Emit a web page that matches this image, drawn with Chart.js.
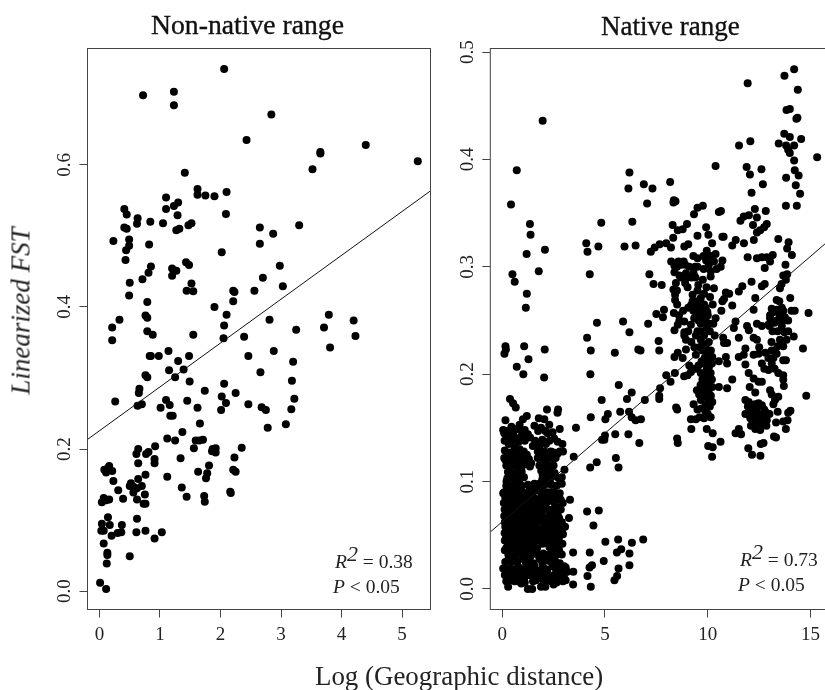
<!DOCTYPE html>
<html>
<head>
<meta charset="utf-8">
<title>Linearized FST vs geographic distance</title>
<script src="https://cdn.jsdelivr.net/npm/chart.js@4"></script>
<style>
  html, body { margin: 0; padding: 0; background: #fff; }
  body { position: relative; width: 825px; height: 690px; overflow: hidden; font-family: "Liberation Serif", serif; color: #222; }
  canvas { position: absolute; top: 0; }
  #chartLeft { left: 0; }
  #chartRight { left: 440px; }
  .txt { position: absolute; white-space: nowrap; line-height: 1; }
  .panelTitle { font-size: 27.7px; color: #111; -webkit-text-stroke: 0.35px #111; }
  .stat { font-size: 19.5px; }
  .stat i { font-style: italic; }
  .stat sup { font-size: 22px; font-style: italic; line-height: 0; position: relative; top: -1px; vertical-align: 6px; }
  #yTitle { font-size: 27px; font-style: italic; left: 21px; top: 311px; transform: translate(-50%, -50%) rotate(-90deg); }
</style>
</head>
<body>
<canvas id="chartLeft" width="440" height="690"></canvas>
<canvas id="chartRight" width="390" height="690"></canvas>
<div class="txt panelTitle" style="left:151px;top:11px">Non-native range</div>
<div class="txt panelTitle" style="left:601px;top:13px;font-size:27px">Native range</div>
<div class="txt" id="yTitle">Linearized FST</div>
<div class="txt" style="left:315px;top:663px;font-size:26.9px">Log (Geographic distance)</div>
<div class="txt stat" style="left:335px;top:552px"><i>R</i><sup>2</sup> = 0.38</div>
<div class="txt stat" style="left:333px;top:577px"><i>P</i> &lt; 0.05</div>
<div class="txt stat" style="left:740px;top:550px"><i>R</i><sup>2</sup> = 0.73</div>
<div class="txt stat" style="left:738px;top:575px"><i>P</i> &lt; 0.05</div>
<script>
// Values: [log distance, linearized FST]
const nonNativePoints = [
  [2.06,.735],[.72,.698],[1.23,.703],[1.23,.684],[2.84,.671],[2.43,.635],[4.40,.628],[3.65,.618],[3.65,.616],[5.26,.605],
  [3.52,.594],[1.41,.589],[1.62,.566],[1.62,.558],[1.75,.557],[1.90,.556],[2.10,.562],[1.10,.554],[1.30,.547],[1.23,.542],
  [1.10,.538],[.41,.538],[.45,.530],[1.29,.529],[2.09,.531],[.63,.525],[.62,.517],[.84,.520],[1.05,.518],[1.52,.518],
  [1.47,.515],[.41,.512],[.45,.510],[1.32,.510],[1.27,.508],[2.65,.512],[2.87,.503],[3.30,.515],[.23,.493],[.49,.495],
  [.49,.486],[.44,.480],[.82,.488],[2.65,.489],[2.02,.477],[.43,.466],[1.43,.463],[1.48,.459],[.85,.457],[1.20,.454],
  [1.27,.451],[.81,.448],[1.20,.444],[2.98,.458],[.71,.439],[2.70,.441],[.50,.434],[1.52,.433],[3.03,.429],[1.44,.423],
  [1.55,.422],[2.56,.423],[2.21,.423],[2.23,.421],[.49,.416],[.79,.407],[2.21,.408],[1.90,.400],[.76,.388],[.79,.385],
  [2.10,.389],[3.79,.389],[.33,.382],[2.81,.382],[4.20,.381],[.21,.371],[2.06,.374],[3.71,.371],[3.25,.368],[.79,.366],
  [.88,.361],[1.55,.361],[2.39,.358],[2.05,.356],[4.23,.359],[.21,.353],[3.81,.343],[.83,.331],[.85,.331],[.98,.331],
  [1.14,.338],[1.30,.324],[1.48,.331],[2.46,.331],[2.88,.338],[3.20,.323],[1.15,.311],[1.39,.312],[2.66,.308],[.76,.304],
  [.79,.301],[1.25,.301],[1.49,.295],[3.18,.296],[2.06,.292],[.66,.285],[.65,.279],[1.74,.282],[2.25,.279],[2.02,.274],
  [3.22,.271],[.26,.267],[1.10,.269],[1.45,.268],[2.09,.265],[2.46,.263],[1.16,.262],[.70,.263],[.63,.261],[1.01,.258],
  [1.62,.258],[2.68,.259],[2.75,.255],[3.17,.256],[2.01,.255],[1.17,.247],[1.21,.247],[1.66,.236],[3.08,.235],[2.78,.230],
  [1.37,.224],[1.12,.215],[1.25,.212],[1.59,.212],[1.65,.212],[1.71,.213],[.92,.204],[1.56,.201],[2.35,.202],[.64,.200],
  [.61,.193],[.81,.196],[.77,.193],[1.87,.200],[1.92,.201],[1.86,.197],[1.92,.195],[.91,.186],[.91,.180],[1.34,.187],
  [2.23,.188],[.64,.180],[1.81,.177],[2.21,.171],[2.25,.168],[.16,.176],[.21,.169],[.08,.171],[.11,.167],[.14,.173],
  [1.63,.168],[1.78,.166],[1.76,.159],[.76,.164],[1.12,.161],[.64,.158],[.23,.155],[.52,.152],[.50,.148],[.70,.148],
  [.56,.147],[.62,.145],[1.36,.146],[.31,.142],[.56,.139],[2.16,.140],[2.17,.138],[.75,.136],[1.44,.133],[1.73,.134],
  [1.74,.126],[.39,.130],[.62,.129],[.07,.131],[.16,.129],[.11,.128],[.04,.125],[.73,.123],[.76,.123],[.14,.104],
  [.62,.102],[.04,.095],[.17,.093],[.37,.093],[.03,.085],[.07,.085],[.76,.085],[.61,.083],[1.03,.083],[.36,.083],
  [.30,.082],[.20,.078],[.91,.074],[.07,.067],[.13,.054],[.13,.051],[.50,.049],[.12,.039],[.01,.012],[.11,.003]
];

const nativePoints = [
  [14.20,.484],[13.73,.478],[11.94,.471],[14.38,.465],[13.83,.446],[13.99,.447],[14.36,.439],[14.31,.438],[1.97,.436],[13.72,.424],
  [13.99,.421],[14.54,.419],[12.07,.417],[11.52,.413],[13.45,.415],[13.81,.413],[14.20,.413],[13.91,.409],[13.99,.406],[15.32,.402],
  [14.20,.399],[10.38,.394],[11.89,.393],[12.61,.391],[14.23,.390],[.71,.390],[14.42,.385],[12.05,.386],[13.81,.383],[6.19,.388],
  [6.14,.373],[6.89,.377],[7.31,.373],[8.17,.379],[12.68,.377],[14.28,.376],[12.13,.369],[14.49,.368],[8.35,.362],[8.43,.361],
  [8.33,.360],[7.05,.359],[.43,.358],[13.80,.357],[14.33,.357],[9.76,.357],[9.50,.355],[12.29,.354],[9.33,.349],[10.54,.351],
  [10.64,.352],[12.82,.352],[11.75,.347],[12.0,.348],[12.39,.346],[11.59,.343],[6.33,.342],[4.82,.341],[1.35,.340],[8.99,.340],
  [8.29,.339],[12.2,.339],[12.87,.340],[12.74,.337],[12.55,.334],[12.39,.332],[9.92,.337],[8.78,.335],[8.54,.334],[1.38,.330],
  [9.50,.329],[10.03,.330],[8.32,.327],[10.71,.328],[10.77,.328],[13.43,.326],[12.24,.325],[11.36,.325],[13.93,.323],[10.21,.322],
  [11.76,.322],[11.19,.320],[4.09,.322],[7.66,.321],[7.98,.322],[6.49,.320],[9.05,.321],[8.86,.319],[4.15,.314],[4.68,.319],
  [5.95,.319],[7.42,.318],[7.23,.314],[8.21,.318],[2.08,.316],[13.86,.317],[1.19,.312],[9.95,.315],[10.38,.312],[13.16,.311],
  [14.09,.311],[9.5,.308],[9.79,.310],[10.14,.310],[11.94,.309],[12.39,.308],[12.63,.309],[12.87,.309],[13.03,.305],[8.22,.305],
  [8.57,.305],[8.83,.305],[9.92,.306],[10.71,.306],[8.38,.301],[8.70,.302],[9.39,.300],[10.63,.300],[10.43,.298],[13.78,.302],
  [12.77,.299],[1.78,.296],[.50,.293],[4.26,.293],[7.16,.293],[8.38,.295],[8.94,.294],[8.62,.292],[9.31,.294],[9.21,.290],
  [10.14,.291],[13.67,.292],[13.86,.293],[13.80,.288],[.61,.286],[12.13,.286],[7.36,.284],[7.76,.283],[8.90,.285],[9.76,.288],
  [12.77,.284],[12.63,.282],[13.59,.284],[13.51,.280],[9.02,.281],[9.54,.283],[9.94,.281],[10.3,.280],[8.33,.279],[11.68,.282],
  [11.51,.277],[1.2,.275],[8.41,.274],[10.88,.276],[11.04,.275],[9.26,.274],[9.82,.275],[9.66,.271],[10.11,.272],[12.31,.271],
  [14.01,.271],[8.41,.269],[9.26,.268],[9.50,.268],[10.71,.268],[10.79,.270],[13.35,.269],[13.48,.268],[8.51,.265],[9.18,.264],
  [9.82,.265],[10.24,.265],[11.19,.264],[1.15,.262],[8.80,.259],[7.87,.260],[10.66,.259],[12.23,.260],[13.11,.261],[13.35,.260],
  [13.67,.259],[14.07,.259],[14.23,.259],[7.5,.256],[8.35,.257],[14.9,.257],[9.42,.258],[9.66,.257],[9.98,.258],[7.82,.253],
  [13.03,.255],[13.03,.252],[9.66,.254],[9.34,.252],[9.90,.252],[10.38,.252],[13.35,.250],[13.67,.250],[13.91,.250],[8.62,.250],
  [8.86,.249],[4.61,.248],[5.88,.249],[7.10,.247],[8.54,.246],[9.18,.246],[9.66,.247],[10.06,.247],[10.27,.247],[11.35,.249],
  [12.39,.247],[12.63,.245],[12.95,.246],[11.91,.245],[11.27,.243],[12.0,.241],[8.38,.241],[13.91,.240],[13.73,.239],[6.19,.239],
  [8.86,.239],[9.5,.240],[8.86,.236],[9.42,.236],[9.82,.236],[10.34,.236],[4.13,.234],[7.61,.231],[10.75,.234],[11.51,.234],
  [12.23,.234],[12.39,.232],[14.18,.235],[13.51,.232],[13.83,.232],[8.94,.232],[9.66,.232],
  [.16,.226],[.18,.223],[.11,.219],[1.07,.226],[2.07,.223],[4.31,.222],[5.48,.220],[6.62,.223],[6.73,.222],[7.64,.222],
  [1.28,.214],[.71,.207],[1.03,.200],[2.04,.197],[4.29,.200],[8.38,.216],[8.54,.220],[8.78,.215],[8.94,.223],[9.42,.218],
  [9.74,.222],[9.98,.219],[10.22,.216],[10.79,.229],[10.94,.229],[10.88,.216],[10.54,.212],[10.94,.210],[11.51,.216],[11.83,.224],
  [11.75,.218],[12.23,.218],[12.47,.219],[12.63,.210],[12.95,.215],[13.11,.222],[13.35,.219],[13.19,.215],[13.11,.210],[12.95,.204],
  [13.67,.213],[13.8,.213],[14.63,.224],[13.67,.226],[11.83,.209],[11.99,.201],[12.23,.196],[12.47,.193],[12.63,.193],[12.04,.188],
  [12.31,.183],[13.43,.201],[13.67,.199],[13.67,.195],[13.7,.189],[13.03,.185],[13.11,.181],[13.43,.179],[13.27,.176],[13.19,.172],
  [14.79,.180],[9.02,.199],[9.18,.202],[9.42,.205],[9.66,.201],[9.82,.210],[10.06,.207],[10.14,.201],[9.74,.195],[9.98,.195],
  [11.19,.195],[7.98,.199],[8.19,.193],[8.40,.201],[5.67,.190],[6.30,.183],[6.07,.177],[7.68,.187],[7.64,.180],[7.64,.177],
  [6.94,.176],[4.84,.176],[9.47,.185],[9.58,.181],[9.9,.188],[10.22,.188],[10.06,.182],[9.82,.181],[10.54,.188],[10.94,.187],
  [9.66,.176],[10.22,.174],[9.31,.172],[9.98,.171],[8.46,.169],[8.51,.167],[9.5,.167],[9.9,.165],[10.14,.160],[9.82,.159],
  [14.02,.166],[13.91,.164],[13.40,.165],[11.83,.176],[11.99,.174],[12.47,.173],[12.63,.171],[12.07,.169],[12.74,.167],[11.83,.163],
  [12.23,.163],[12.47,.163],[12.79,.160],[12.07,.159],[12.47,.157],[12.87,.157],[12.23,.153],[12.63,.153],[12.31,.149],[13.88,.157],
  [13.67,.156],[13.32,.155],[13.80,.149],[9.18,.158],[9.42,.158],[9.2,.149],[11.51,.149],[11.35,.145],[11.62,.144],[9.95,.149],
  [10.24,.145],[10.62,.137],[10.02,.133],[10.24,.132],[10.21,.123],[13.22,.142],[13.32,.141],[12.71,.136],[12.58,.135],[11.97,.131],
  [12.15,.125],[12.56,.124],[8.51,.140],[8.54,.136],[6.67,.136],[6.14,.144],[5.50,.144],[5.0,.143],[4.86,.139],[4.97,.139],
  [6.75,.158],[6.49,.157],[6.3,.160],[6.17,.165],[5.74,.165],[5.14,.163],[5.02,.158],[4.31,.160],[3.59,.150],[3.48,.123],
  [5.53,.122],[4.6,.118],[4.28,.113],[5.66,.113],[3.03,.111],[4.13,.072],[4.70,.073],[4.44,.059],[3.30,.083],[3.25,.066],
  [6.86,.046],[6.31,.043],[5.64,.046],[5.02,.044],[5.79,.037],[5.58,.034],[6.19,.033],[6.19,.022],[4.26,.034],[3.45,.034],
  [4.94,.026],[4.37,.022],[4.25,.020],[4.15,.012],[5.66,.019],[5.59,.012],[5.46,.008],[4.31,.002],[3.45,.004],[3.46,.016],[3.09,.020],
  // middle and right clusters, where dots overlap
  [9.6,.262],[9.9,.262],[9.3,.259],[10.0,.255],[9.55,.25],[9.8,.248],[9.95,.243],[9.65,.24],[10.1,.24],[9.75,.228],
  [9.9,.225],[10.05,.23],[9.6,.225],[10.15,.222],[9.85,.215],[10.0,.212],[10.2,.21],[9.7,.212],[9.95,.205],[10.1,.2],
  [9.55,.208],[9.85,.2],[10.0,.193],[10.2,.195],[9.65,.19],[9.95,.186],[10.15,.18],[9.75,.185],[10.0,.178],[9.9,.172],
  [10.1,.17],[9.7,.168],[10.0,.163],[9.6,.16],[9.3,.205],[9.1,.208],[8.85,.198],[9.05,.24],[9.2,.23],[9.35,.225],
  [8.7,.29],[8.5,.3],[8.45,.285],[8.5,.278],[8.9,.302],[9.1,.3],[9.0,.29],[9.4,.29],[9.5,.278],[9.3,.265],
  [9.6,.268],[9.05,.262],[9.7,.262],[8.6,.255],[9.5,.3],[9.8,.298],[10.05,.302],[10.3,.305],[10.15,.296],[10.0,.31],[9.3,.31],
  [12.1,.165],[12.3,.16],[12.6,.16],[12.2,.155],[12.4,.152],[12.8,.165],[12.1,.152],[12.0,.163],[12.35,.167],[12.7,.155],
  [12.55,.148],[11.95,.17],[12.3,.172],[12.85,.152],[13.0,.163],[13.2,.258],[13.5,.255],[13.25,.248],[13.6,.262],[13.4,.24],
  [13.0,.245],[13.15,.24],[13.75,.253],[13.6,.245],[13.1,.23],[13.4,.226],[13.25,.222],[12.8,.22],[12.5,.225],[12.75,.205],[13.25,.205],
  // dense block near the origin
  [.38,.177],[.53,.173],[.66,.169],[2.18,.167],[2.72,.167],[2.69,.164],[.16,.157],[1.2,.161],[1.01,.158],[1.78,.159],
  [2.05,.158],[.85,.153],[.45,.151],[.72,.149],[1.57,.152],[1.89,.150],[2.29,.153],[2.8,.149],[.05,.148],[.1,.145],
  [.29,.143],[.61,.141],[.93,.142],[1.25,.144],[1.36,.141],[2.21,.145],[2.53,.140],[2.13,.135],[2.93,.135],[1.49,.133],
  [1.81,.133],[.32,.135],[.61,.132],[.85,.130],[.13,.129],[.29,.125],[.61,.126],[.93,.125],[1.2,.125],[1.73,.128],
  [2.05,.128],[2.37,.128],[2.96,.128],[2.69,.126],[.16,.120],[.45,.118],[.77,.120],[1.09,.118],[1.41,.117],[1.73,.122],
  [2.13,.120],[2.45,.122],[.29,.114],[.61,.115],[.93,.112],[1.81,.115],[2.1,.112],[2.37,.115],[1.06,.104],[.37,.104],
  [1.97,.106],[2.29,.104],[2.9,.104],[2.9,.098],[.21,.100],[.61,.100],[.85,.098],[1.57,.098],[1.81,.098],[2.21,.098],
  [.05,.089],[.37,.094],[.77,.092],[1.33,.094],[1.65,.092],[2.05,.089],[2.53,.090],[2.69,.088],[.08,.080],[.37,.086],
  [.61,.084],[1.09,.083],[1.41,.086],[1.73,.083],[2.37,.083],[2.85,.083],[.45,.078],[1.01,.078],[1.33,.076],[1.81,.076],
  [2.69,.076],[2.29,.073],[.29,.072],[.61,.072],[.93,.070],[1.25,.070],[1.81,.070],[2.53,.069],[.13,.062],[.45,.064],
  [.77,.062],[1.09,.064],[1.41,.062],[1.73,.064],[2.05,.062],[2.45,.064],[2.77,.066],[3.06,.058],[.29,.056],[.61,.055],
  [.93,.056],[1.25,.055],[1.57,.056],[1.89,.055],[2.21,.056],[2.61,.055],[2.9,.055],[.13,.045],[.45,.048],[.77,.047],
  [1.09,.048],[1.49,.048],[1.97,.048],[2.37,.047],[2.77,.048],[2.96,.051],[.29,.041],[.61,.042],[.93,.039],[1.25,.042],
  [1.97,.042],[2.53,.042],[2.93,.042],[.13,.036],[.45,.034],[.77,.036],[1.17,.034],[1.57,.033],[2.45,.036],[2.77,.036],
  [.29,.027],[.61,.030],[1.01,.028],[1.33,.028],[1.81,.028],[2.13,.027],[2.45,.028],[.05,.019],[.37,.019],[.77,.021],
  [1.17,.022],[1.57,.022],[1.97,.022],[2.45,.021],[3.01,.021],[.13,.013],[.53,.013],[.93,.014],[1.33,.013],[1.73,.013],
  [2.13,.016],[2.53,.013],[2.85,.016],[3.17,.016],[.29,.002],[.61,.007],[.93,.005],[1.25,0],[1.46,0],[1.89,.002],
  [2.1,.002],[2.5,.004],[.45,.008],[.85,.008],[1.65,.008],[2.29,.008],[2.77,.008],[3.09,.008],
  [.2,.147],[.55,.146],[.95,.147],[1.1,.148],[1.75,.147],[2.1,.147],[2.45,.146],[.12,.138],[.45,.138],[.8,.137],
  [1.1,.138],[1.6,.138],[1.95,.139],[2.3,.138],[2.7,.137],[.4,.127],[.78,.127],[1.05,.128],[1.95,.126],[2.2,.127],
  [2.5,.127],[2.8,.128],[.1,.122],[.3,.121],[.55,.122],[.75,.123],[1.0,.122],[1.3,.121],[1.9,.122],[2.25,.123],
  [2.6,.122],[.2,.115],[.42,.114],[.8,.115],[1.1,.116],[1.35,.114],[1.95,.115],[2.2,.116],[2.5,.115],[.28,.109],
  [.5,.108],[.75,.109],[.95,.109],[1.9,.11],[2.1,.108],[2.35,.109],[2.55,.108],[.25,.103],[.55,.103],[.8,.104],
  [1.95,.102],[2.15,.103],[2.4,.104],[2.75,.103],[.2,.096],[.42,.096],[.7,.095],[.95,.096],[1.25,.097],[1.5,.096],
  [1.7,.095],[2.0,.096],[2.4,.097],[2.65,.096],[.1,.09],[.3,.09],[.55,.091],[.7,.09],[1.0,.09],[1.2,.089],
  [1.45,.09],[1.85,.091],[2.2,.09],[2.4,.09],[2.8,.089],[.15,.085],[.25,.084],[.5,.085],[.75,.086],[.95,.085],
  [1.2,.084],[1.55,.085],[1.9,.086],[2.1,.085],[2.5,.084],[2.7,.085],[.2,.08],[.35,.081],[.55,.08],[.75,.08],
  [1.25,.081],[1.5,.08],[1.65,.079],[1.95,.08],[2.2,.081],[2.55,.08],[2.95,.08],[.12,.074],[.4,.074],[.55,.075],
  [.8,.074],[1.05,.073],[1.5,.074],[1.7,.075],[2.0,.074],[2.15,.075],[2.45,.074],[2.85,.074],[.1,.068],[.3,.067],
  [.45,.068],[.75,.068],[1.05,.067],[1.4,.068],[1.6,.069],[1.95,.068],[2.2,.067],[2.4,.068],[2.7,.069],[.3,.062],
  [.6,.061],[.9,.063],[1.2,.062],[1.55,.061],[1.9,.063],[2.2,.062],[2.6,.061],[2.9,.062],[.15,.058],[.4,.058],
  [.7,.057],[1.0,.059],[1.35,.058],[1.7,.057],[2.05,.058],[2.4,.059],[2.75,.058],[.12,.052],[.35,.052],[.55,.051],
  [.8,.052],[1.1,.053],[1.4,.052],[1.7,.051],[2.05,.052],[2.35,.053],[2.65,.052],[.2,.049],[.6,.049],[.95,.05],
  [1.3,.049],[2.15,.049],[2.5,.05],[.25,.044],[.6,.045],[.9,.044],[1.15,.043],[1.4,.044],[1.7,.045],[2.2,.044],
  [2.6,.044],[2.8,.043],[.2,.038],[.5,.038],[.75,.039],[1.05,.038],[1.35,.037],[1.7,.038],[2.3,.039],[2.65,.038],
  [.3,.032],[.6,.032],[.9,.033],[1.1,.032],[1.4,.031],[1.75,.032],[2.0,.033],[2.25,.032],[2.6,.031],[.15,.025],
  [.45,.025],[.75,.026],[1.15,.025],[1.5,.024],[1.95,.025],[2.3,.026],[2.6,.025],[2.8,.024],[.2,.018],[.55,.018],
  [.65,.017],[.95,.018],[1.3,.019],[1.45,.018],[1.75,.017],[2.2,.018],[2.6,.019],[2.75,.018],[2.95,.017],[.3,.012],
  [.7,.012],[1.1,.011],[1.5,.012],[1.9,.013],[2.3,.012],[2.7,.011],[3.0,.012],[.2,.007],[.75,.007],[1.1,.006],
  [1.5,.007],[2.0,.008],[2.4,.007],[2.65,.006],[2.95,.007],
  [1.6,.018],[1.85,.016],[2.05,.012],[1.2,.015],[.85,.016],[.4,.015],[1.35,.024],[1.85,.03],[2.9,.032],[1.55,.041],[1.5,.036],[1.1,.058]
];

const nonNativeLineX = [-0.198, 5.47];
const nonNativeLineY = [0.2136, 0.5634];
const nativeLineX = [-0.577, 15.75];
const nativeLineY = [0.053, 0.3222];

const nonNativeXTicks = [0, 1, 2, 3, 4, 5];
const nonNativeYTicks = [0, 0.2, 0.4, 0.6];
const nativeXTicks = [0, 5, 10, 15];
const nativeYTicks = [0, 0.1, 0.2, 0.3, 0.4, 0.5];

const AXIS_COLOR = '#444';
const TICK_FONT = { family: '"Liberation Serif", serif', size: 19 };

// R style box around the plot area
const boxPlugin = {
  id: 'box',
  afterDraw(chart) {
    const a = chart.chartArea;
    const c = chart.ctx;
    c.save();
    c.strokeStyle = AXIS_COLOR;
    c.lineWidth = 1;
    c.strokeRect(a.left, a.top, a.right - a.left, a.bottom - a.top);
    c.restore();
  }
};

function makeScatter(id, cfg) {
  return new Chart(document.getElementById(id), {
    type: 'scatter',
    plugins: [boxPlugin],
    data: {
      datasets: [
        {
          data: cfg.points.map(p => ({ x: p[0], y: p[1] })),
          pointRadius: 4,
          pointBackgroundColor: '#000',
          pointBorderWidth: 0,
          order: 2
        },
        {
          type: 'line',
          data: cfg.lineX.map((x, i) => ({ x: x, y: cfg.lineY[i] })),
          borderColor: '#111',
          borderWidth: 1,
          pointRadius: 0,
          order: 1
        }
      ]
    },
    options: {
      responsive: false,
      animation: false,
      layout: { padding: { top: 48.5, right: cfg.padRight, bottom: 0, left: 0 } },
      plugins: { legend: { display: false }, tooltip: { enabled: false } },
      scales: {
        x: {
          type: 'linear',
          min: cfg.xMin,
          max: cfg.xMax,
          afterFit(scale) { scale.height = 80.5; },
          afterBuildTicks(scale) { scale.ticks = cfg.xTicks.map(v => ({ value: v })); },
          border: { display: false },
          grid: { drawOnChartArea: false, tickLength: 8, color: AXIS_COLOR },
          ticks: { color: '#222', font: TICK_FONT, padding: 6, maxRotation: 0, autoSkip: false, callback: v => String(v) }
        },
        y: {
          min: cfg.yMin,
          max: cfg.yMax,
          afterFit(scale) { scale.width = cfg.axisWidth; },
          afterBuildTicks(scale) { scale.ticks = cfg.yTicks.map(v => ({ value: v })); },
          border: { display: false },
          grid: { drawOnChartArea: false, tickLength: 8, color: AXIS_COLOR },
          ticks: {
            color: '#222', font: TICK_FONT, padding: cfg.tickPad, minRotation: 90, maxRotation: 90,
            crossAlign: 'center', autoSkip: false, callback: v => v.toFixed(1)
          }
        }
      }
    }
  });
}

makeScatter('chartLeft', {
  points: nonNativePoints, lineX: nonNativeLineX, lineY: nonNativeLineY,
  xTicks: nonNativeXTicks, yTicks: nonNativeYTicks,
  xMin: -0.198, xMax: 5.47, yMin: -0.0258, yMax: 0.7638,
  axisWidth: 87.5, padRight: 9.5, tickPad: 3
});

makeScatter('chartRight', {
  points: nativePoints, lineX: nativeLineX, lineY: nativeLineY,
  xTicks: nativeXTicks, yTicks: nativeYTicks,
  xMin: -0.577, xMax: 15.75, yMin: -0.0192, yMax: 0.5034,
  axisWidth: 50.3, padRight: 0, tickPad: 2.6
});
</script>
</body>
</html>
